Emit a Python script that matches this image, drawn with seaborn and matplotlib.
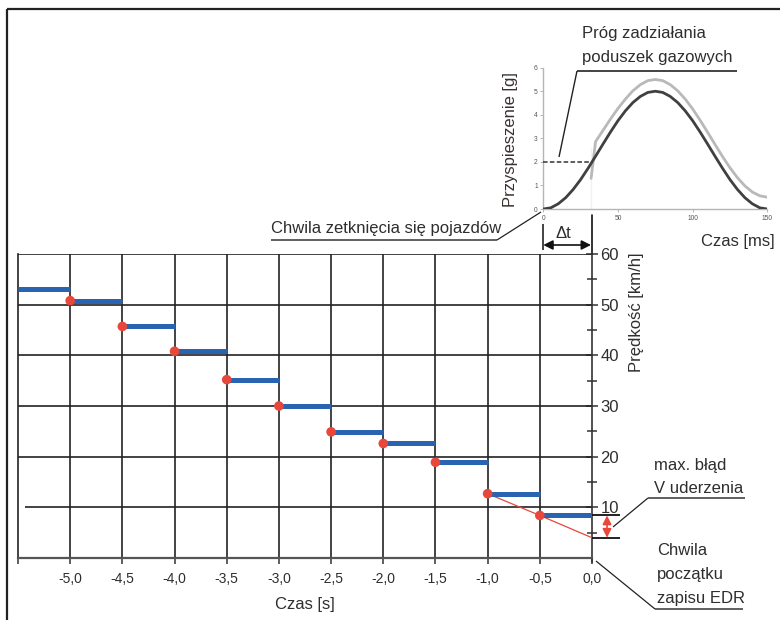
import numpy as np
import pandas as pd
import matplotlib
matplotlib.use('Agg')
import matplotlib.pyplot as plt
import seaborn as sns

# ---------------- data ----------------
step_start = [-5.5, -5.0, -4.5, -4.0, -3.5, -3.0, -2.5, -2.0, -1.5, -1.0, -0.5]
step_speed = [53.0, 50.8, 45.7, 40.8, 35.2, 30.0, 24.9, 22.6, 18.9, 12.7, 8.4]
step_len = 0.5
dot_t = [-5.0, -4.5, -4.0, -3.5, -3.0, -2.5, -2.0, -1.5, -1.0, -0.5]
dot_v = [50.8, 45.7, 40.8, 35.2, 30.0, 24.9, 22.6, 18.9, 12.7, 8.4]
extrap_t = [-1.0, -0.5, 0.0]
extrap_v = [12.7, 8.4, 4.0]
err_hi, err_lo = 8.4, 4.0
x_ticks = [-5.5, -5.0, -4.5, -4.0, -3.5, -3.0, -2.5, -2.0, -1.5, -1.0, -0.5, 0.0]
x_ticklabels = ['', '-5,0', '-4,5', '-4,0', '-3,5', '-3,0', '-2,5', '-2,0', '-1,5', '-1,0', '-0,5', '0,0']
y_ticks = [10, 20, 30, 40, 50, 60]
y_minor = [5, 15, 25, 35, 45, 55]

acc_t = [0, 5, 10, 15, 20, 25, 30, 35, 40, 45, 50, 55, 60, 65, 70, 75,
         80, 85, 90, 95, 100, 105, 110, 115, 120, 125, 130, 135, 140, 145, 150]
acc_v = [0.0, 0.05, 0.22, 0.48, 0.83, 1.25, 1.73, 2.24, 2.76, 3.27, 3.75, 4.17, 4.52, 4.78, 4.95, 5.0,
         4.95, 4.78, 4.52, 4.17, 3.75, 3.27, 2.76, 2.24, 1.73, 1.25, 0.83, 0.48, 0.22, 0.05, 0.0]
air_t = [32, 32, 35, 40, 45, 50, 55, 60, 65, 70, 75, 80, 85, 90, 95, 100,
         105, 110, 115, 120, 125, 130, 135, 140, 145, 150]
air_v = [0.0, 2.6, 2.86, 3.34, 3.82, 4.27, 4.67, 5.02, 5.28, 5.45, 5.5, 5.45, 5.28, 5.02, 4.67, 4.25,
         3.77, 3.26, 2.74, 2.23, 1.75, 1.33, 0.98, 0.72, 0.56, 0.5]
thr_t = [0, 32]
thr_v = [2, 2]
in_xticks = [0, 50, 100, 150]
in_yticks = [0, 1, 2, 3, 4, 5, 6]

# ---------------- style ----------------
sns.set_theme(style='white')
plt.rcParams['font.family'] = ['Liberation Sans Narrow', 'Liberation Sans', 'DejaVu Sans']
TXT = '#2e2e2e'
BLUE = '#2a63b1'
RED = '#e8473b'
GRID = '#222222'

W, H = 780, 620
fig = plt.figure(figsize=(W / 100, H / 100), dpi=100)

def rect(x0, y0, x1, y1):
    return [x0 / W, 1 - y1 / H, (x1 - x0) / W, (y1 - y0) / H]

# ---------------- main chart ----------------
ax = fig.add_axes(rect(18, 254, 592, 558))
ax.set_xlim(-5.5, 0)
ax.set_ylim(0, 60)

# grid
ax.vlines(x_ticks[1:-1], 0, 60, color=GRID, lw=1.2, zorder=1)
ax.hlines(y_ticks[1:], -5.5, 0, color=GRID, lw=1.2, zorder=1)
ax.hlines(y_ticks[0], -5.43, 0, color=GRID, lw=1.2, zorder=1)

# velocity steps
ax.hlines(step_speed, step_start, np.add(step_start, step_len), color=BLUE, lw=3.6, zorder=4)
sns.lineplot(x=extrap_t, y=extrap_v, color=RED, lw=0.9, ax=ax, zorder=3)
sns.scatterplot(x=dot_t, y=dot_v, color=RED, s=48, edgecolor='none', ax=ax, zorder=5)

# error band markers
ax.hlines([err_hi, err_lo], 0, 0.27, color='#111111', lw=1.3, clip_on=False, zorder=6)
ax.annotate('', xy=(0.144, err_lo), xytext=(0.144, err_hi),
            arrowprops=dict(arrowstyle='<|-|>', color=RED, lw=1.2, mutation_scale=13,
                            shrinkA=0, shrinkB=0), annotation_clip=False)

# spines / ticks
ax.spines['top'].set_visible(False)
ax.spines['left'].set_color(GRID)
ax.spines['left'].set_linewidth(1.2)
ax.spines['bottom'].set_color('#555555')
ax.spines['bottom'].set_linewidth(1.6)
ax.spines['right'].set_color('#333333')
ax.spines['right'].set_linewidth(1.2)
ax.plot([0, 0], [-0.8, 0], color='#333333', lw=1.2, clip_on=False)
ax.plot([0, 0], [60, 67.7], color='#111111', lw=1.2, clip_on=False)

ax.set_xticks(x_ticks)
ax.set_xticklabels(x_ticklabels)
ax.tick_params(axis='x', direction='out', length=4, width=1.1, color='#333333',
               labelsize=10, labelcolor=TXT, pad=6, bottom=True)
ax.yaxis.tick_right()
ax.set_yticks(y_ticks)
ax.set_yticks(y_minor, minor=True)
ax.tick_params(axis='y', which='major', direction='inout', length=8, width=1.1, color='#333333',
               labelsize=12, labelcolor=TXT, pad=2, right=True, left=False)
ax.tick_params(axis='y', which='minor', direction='inout', length=7, width=1.1, color='#333333',
               right=True, left=False)
ax.set_xlabel('')
ax.set_ylabel('')

# ---------------- inset chart ----------------
ai = fig.add_axes(rect(543.3, 67.7, 767.3, 209))
ai.set_xlim(0, 150)
ai.set_ylim(0, 6)
ai.patch.set_alpha(0)
sns.lineplot(x=air_t, y=air_v, color='#b9b9b9', lw=2.0, ax=ai, zorder=2)
sns.lineplot(x=acc_t, y=acc_v, color='#404040', lw=2.0, ax=ai, zorder=3)
ai.plot(thr_t, thr_v, color='#333333', lw=1.1, ls=(0, (3, 1.5)), zorder=4)
for s in ['top', 'right']:
    ai.spines[s].set_visible(False)
for s in ['left', 'bottom']:
    ai.spines[s].set_color('#b5b5b5')
    ai.spines[s].set_linewidth(1.0)
ai.set_xticks(in_xticks)
ai.set_yticks(in_yticks)
ai.tick_params(axis='both', direction='out', length=2, width=0.6, color='#aaaaaa',
               labelsize=4.8, labelcolor='#555555', pad=2, left=True, bottom=True)
ai.set_xlabel('')
ai.set_ylabel('')

# ---------------- overlay for labels and annotations ----------------
ov = fig.add_axes([0, 0, 1, 1], zorder=10)
ov.set_xlim(0, W)
ov.set_ylim(H, 0)
ov.axis('off')
ov.patch.set_alpha(0)

LC = '#222222'
def line(xs, ys, lw=1.0, color=LC):
    ov.plot(xs, ys, color=color, lw=lw, solid_capstyle='butt')

# outer frame
line([7, 780], [9, 9], lw=1.6, color='#222222')
line([7, 7], [9, 620], lw=1.6, color='#222222')

# axis labels
ov.text(305, 605, 'Czas [s]', fontsize=12, color=TXT, ha='center', va='center')
ov.text(636, 312, 'Prędkość [km/h]', fontsize=12, color=TXT, ha='center', va='center', rotation=90)
ov.text(511, 140, 'Przyspieszenie [g]', fontsize=12, color='#3a3030', ha='center', va='center', rotation=90)
ov.text(775, 246, 'Czas [ms]', fontsize=12, color=TXT, ha='right', va='baseline')

# airbag threshold annotation
ov.text(582, 38, 'Próg zadziałania', fontsize=12, color=TXT, ha='left', va='baseline')
ov.text(582, 62, 'poduszek gazowych', fontsize=12, color=TXT, ha='left', va='baseline')
line([577, 737], [71, 71], lw=1.2)
line([577, 559], [71, 157], lw=1.0)

# collision moment annotation
ov.text(271, 233, 'Chwila zetknięcia się pojazdów', fontsize=12, color=TXT, ha='left', va='baseline')
line([271, 497], [240, 240], lw=1.2, color='#444444')
line([497, 541], [240, 212], lw=0.9)

# delta t
ov.text(563, 238, 'Δt', fontsize=12, color=TXT, ha='center', va='baseline')
line([543.3, 543.3], [224, 250], lw=1.2)
ov.annotate('', xy=(591, 245), xytext=(543.3, 245),
            arrowprops=dict(arrowstyle='<|-|>', color='#111111', lw=1.2, mutation_scale=14,
                            shrinkA=0, shrinkB=0))

# max error annotation
ov.text(654, 470, 'max. błąd', fontsize=12, color=TXT, ha='left', va='baseline')
ov.text(654, 493, 'V uderzenia', fontsize=12, color=TXT, ha='left', va='baseline')
line([648, 745], [498, 498], lw=1.2, color='#444444')
line([648, 613], [498, 527], lw=0.9)

# EDR start annotation
ov.text(657, 555, 'Chwila', fontsize=12, color=TXT, ha='left', va='baseline')
ov.text(657, 579, 'początku', fontsize=12, color=TXT, ha='left', va='baseline')
ov.text(657, 603, 'zapisu EDR', fontsize=12, color=TXT, ha='left', va='baseline')
line([655, 743], [609, 609], lw=1.2, color='#444444')
line([655, 596], [609, 561], lw=0.9)

fig.savefig('out.png', dpi=100)
